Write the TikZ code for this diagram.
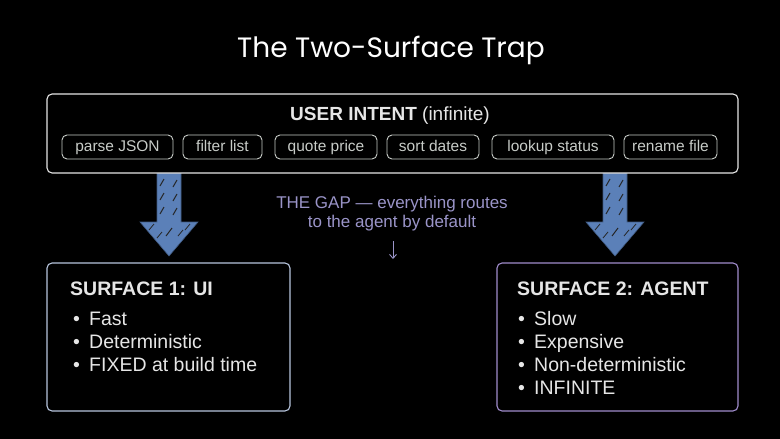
\documentclass[tikz,border=0pt]{standalone}
\usepackage{fontspec}
\setmainfont{Liberation Sans}
\newfontfamily\titlefont{Poppins}
\usetikzlibrary{arrows.meta,calc}
\definecolor{bg}{HTML}{000000}
\definecolor{pale}{HTML}{E6E6E6}
\definecolor{pillc}{HTML}{C8CCC8}
\definecolor{arrowblue}{HTML}{5B80B8}
\definecolor{gapc}{HTML}{9A94C8}
\definecolor{uiborder}{HTML}{B8C6DE}
\definecolor{agborder}{HTML}{A08CCC}
\tikzset{
  sketch/.style={rounded corners=5pt, line width=1.1pt},
  pill/.style={draw=pillc, rounded corners=5pt, line width=0.9pt, minimum height=24pt, inner sep=0pt, text height=11pt, text depth=3pt, text=pillc, font=\fontsize{15.5}{18}\selectfont},
  bigarrow/.style={fill=arrowblue, draw=arrowblue!70!black, line width=0.6pt},
  bodytxt/.style={text=pale, anchor=base west, inner sep=0pt, font=\fontsize{19.5}{22}\selectfont},
  headtxt/.style={text=pale, anchor=base west, inner sep=0pt, font=\fontsize{19.5}{22}\selectfont\bfseries},
}
\newcommand{\bul}{\makebox[16pt][l]{\textbullet}}
\begin{document}
\begin{tikzpicture}[x=1pt,y=-1pt]
\fill[bg] (0,0) rectangle (780,439);
\useasboundingbox (0,0) rectangle (780,439);
% title
\node[text=white, font=\titlefont\fontsize{28}{32}\selectfont] (title) at (391,50) {The Two-Surface Trap};
% arrows (behind main box)
\foreach \cx/\nm in {169/la, 615/ra}{
  \draw[bigarrow] (\cx-12,168) -- (\cx+12,168) -- (\cx+12,222) -- (\cx+29,222) -- (\cx,256) -- (\cx-29,222) -- (\cx-12,222) -- cycle;
  \foreach \yy in {182,196,210}{
    \draw[black!85, line width=1pt] (\cx-9,\yy+4) -- (\cx-5,\yy-3);
    \draw[black!85, line width=1pt] (\cx+4,\yy+5) -- (\cx+8,\yy-2);
  }
  \draw[black!85, line width=1pt] (\cx-3,236) -- (\cx+3,228);
  \draw[black!85, line width=0.8pt] (\cx-20,230) -- (\cx-15,224);
  \draw[black!85, line width=0.8pt] (\cx-12,238) -- (\cx-7,232);
  \draw[black!85, line width=0.8pt] (\cx+9,236) -- (\cx+14,230);
  \draw[black!85, line width=0.8pt] (\cx+16,230) -- (\cx+21,224);
  \coordinate (\nm) at (\cx,256);
}
% main box
\draw[sketch, draw=pale, fill=bg] (47,94) rectangle (738,173);
\node (main) at (392.5,133.5) [minimum width=691pt, minimum height=79pt] {};
\node[text=pale, inner sep=0pt] (intent) at (390,116) {\fontsize{19}{22}\selectfont\bfseries USER INTENT\mdseries\ (infinite)};
\node[pill, minimum width=111pt] (p1) at (117.5,147) {parse JSON};
\node[pill, minimum width=79pt] (p2) at (222.5,147) {filter list};
\node[pill, minimum width=102pt] (p3) at (326,147) {quote price};
\node[pill, minimum width=92pt] (p4) at (433,147) {sort dates};
\node[pill, minimum width=122pt] (p5) at (553,147) {lookup status};
\node[pill, minimum width=93pt] (p6) at (670.5,147) {rename file};
% gap text
\node[text=gapc, align=center, font=\fontsize{17}{19}\selectfont] (gap) at (392,214) {THE GAP --- everything routes\\to the agent by default};
\coordinate (gapend) at (393,259);
\draw[gapc, line width=0.9pt, -{Straight Barb[length=4pt,width=7pt]}] (393,241) -- (gapend);
% left box
\draw[sketch, draw=uiborder] (47,263) rectangle (290,411);
\node (ui) at (168.5,337) [minimum width=243pt, minimum height=148pt] {};
\node[headtxt] (uih) at (70,295) {SURFACE 1: UI};
\node[bodytxt] (u1) at (73,325) {\bul Fast};
\node[bodytxt] (u2) at (73,348) {\bul Deterministic};
\node[bodytxt] (u3) at (73,371) {\bul FIXED at build time};
% right box
\draw[sketch, draw=agborder] (497,263) rectangle (738,411);
\node (ag) at (617.5,337) [minimum width=241pt, minimum height=148pt] {};
\node[headtxt] (agh) at (517,295) {SURFACE 2: AGENT};
\node[bodytxt] (a1) at (518,325) {\bul Slow};
\node[bodytxt] (a2) at (518,348) {\bul Expensive};
\node[bodytxt] (a3) at (518,371) {\bul Non-deterministic};
\node[bodytxt] (a4) at (518,394) {\bul INFINITE};
\end{tikzpicture}
\end{document}
